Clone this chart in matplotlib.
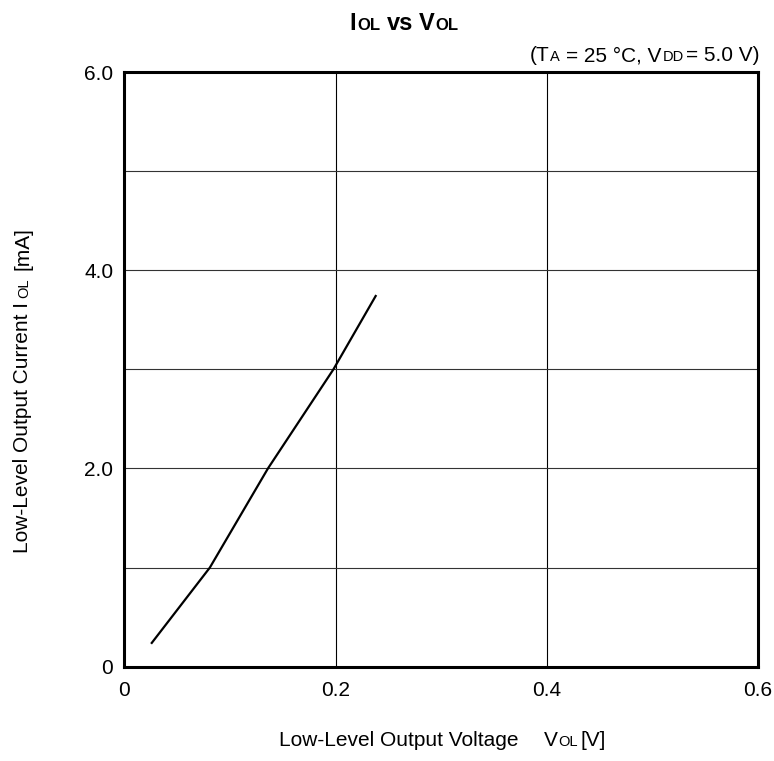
import matplotlib
matplotlib.use("Agg")
import matplotlib.pyplot as plt

plt.rcParams["font.family"] = ["Liberation Sans", "DejaVu Sans"]

# Кривая IOL от VOL
vol = [0.026, 0.081, 0.136, 0.198, 0.238]
iol = [0.24, 1.0, 2.0, 3.0, 3.74]

x_ticks = [0, 0.2, 0.4, 0.6]
x_tick_labels = ["0", "0.2", "0.4", "0.6"]
y_ticks = [0, 2.0, 4.0, 6.0]
y_tick_labels = ["0", "2.0", "4.0", "6.0"]
x_grid = [0.2, 0.4]
y_grid = [1, 2, 3, 4, 5]

W, H = 774, 761
fig = plt.figure(figsize=(W / 100, H / 100), dpi=100)
ax = fig.add_axes([124.3 / W, 1 - 666.7 / H, (758 - 124.3) / W, (666.7 - 72) / H])

for g in x_grid:
    ax.axvline(g, color="black", lw=0.8, zorder=1)
for g in y_grid:
    ax.axhline(g, color="#333333", lw=0.8, zorder=1)

ax.plot(vol, iol, color="black", lw=1.6, zorder=3)

ax.set_xlim(0, 0.6)
ax.set_ylim(0, 6.0)
ax.set_xticks(x_ticks, x_tick_labels, fontsize=15)
ax.set_yticks(y_ticks, y_tick_labels, fontsize=15)
ax.tick_params(axis="x", length=0, pad=10)
ax.tick_params(axis="y", length=0, pad=8)
for s in ax.spines.values():
    s.set_linewidth(2.2)


# Текст из кусков разного размера (индексы как маленькие буквы на той же линии)
def rich_text(x, y, pieces, rotation=0, ha="left"):
    renderer = fig.canvas.get_renderer()
    sizes = []
    for s, size, weight, gap in pieces:
        t = fig.text(0, 0, s, fontsize=size, fontweight=weight, rotation=rotation,
                     rotation_mode="anchor", ha="left", va="baseline")
        bb = t.get_window_extent(renderer)
        sizes.append(bb.width if rotation == 0 else bb.height)
        t.remove()
    total = sum(sizes) + sum(p[3] for p in pieces[1:])
    pos = -total * {"left": 0, "center": 0.5, "right": 1}[ha]
    for i, (s, size, weight, gap) in enumerate(pieces):
        if i > 0:
            pos += gap
        if rotation == 0:
            px, py = x + pos, y
        else:
            px, py = x, y + pos
        fig.text(px / W, py / H, s, fontsize=size, fontweight=weight, rotation=rotation,
                 rotation_mode="anchor", ha="left", va="baseline")
        pos += sizes[i]


rich_text(404, H - 30, [("I", 17, "bold", 0), ("OL", 12, "bold", 2),
                        ("vs", 17, "bold", 6), ("V", 17, "bold", 6), ("OL", 12, "bold", 1)],
          ha="center")
rich_text(760, H - 61, [("(T", 15, "normal", 0), ("A", 10.5, "normal", 1),
                        ("= 25 °C, V", 15, "normal", 6), ("DD", 10.5, "normal", 1),
                        ("= 5.0 V)", 15, "normal", 3)], ha="right")
rich_text(279, H - 746, [("Low-Level Output Voltage", 15, "normal", 0),
                         ("V", 15, "normal", 25), ("OL", 10.5, "normal", 1),
                         ("[V]", 15, "normal", 3)])
rich_text(28, H - 390, [("Low-Level Output Current I", 15, "normal", 0),
                        ("OL", 10.5, "normal", 4), ("[mA]", 15, "normal", 8)],
          rotation=90, ha="center")

fig.savefig("out.png", dpi=100)
